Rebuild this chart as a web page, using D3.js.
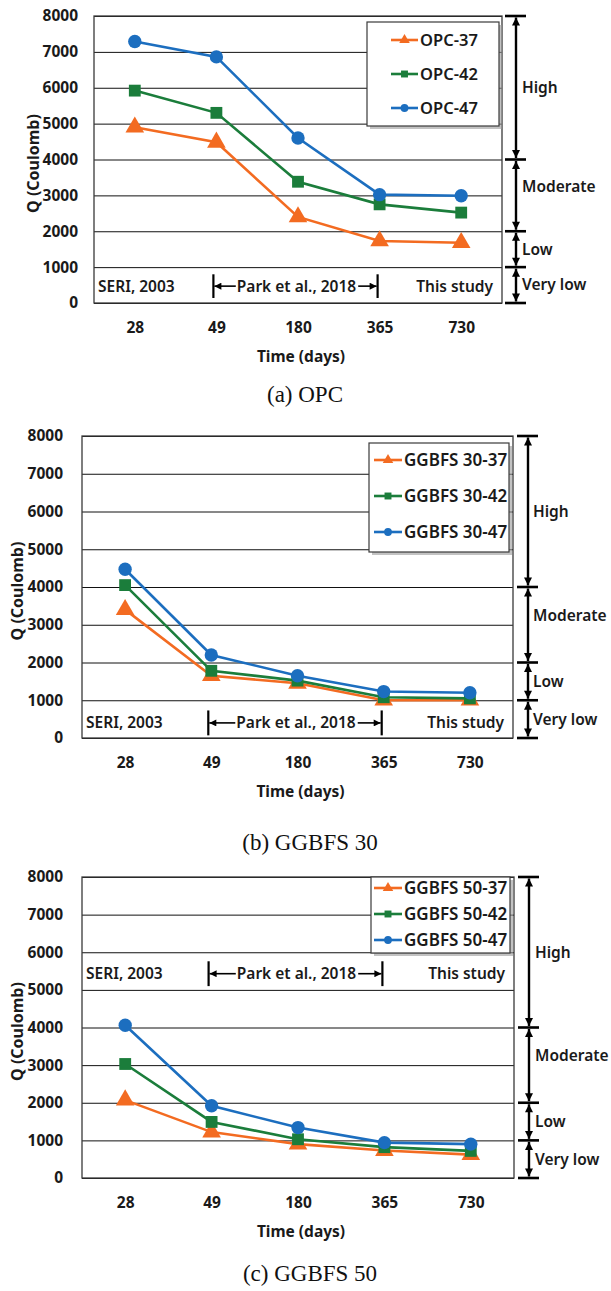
<!DOCTYPE html>
<html><head><meta charset="utf-8">
<script src="https://cdn.jsdelivr.net/npm/d3@7"></script>
<style>body{margin:0;background:#fff} svg{display:block}</style>
</head><body><svg id="c" width="611" height="1291"></svg>
<script>
// ---------- data ----------
const days = ["28", "49", "180", "365", "730"];
const yTicks = [0, 1000, 2000, 3000, 4000, 5000, 6000, 7000, 8000];

const opcNames = ["OPC-37", "OPC-42", "OPC-47"];
const opc37 = [4900, 4480, 2400, 1730, 1680];
const opc42 = [5920, 5300, 3380, 2750, 2520];
const opc47 = [7290, 6860, 4600, 3020, 2990];

const g30Names = ["GGBFS 30-37", "GGBFS 30-42", "GGBFS 30-47"];
const g30_37 = [3400, 1650, 1450, 1000, 1000];
const g30_42 = [4050, 1780, 1520, 1080, 1050];
const g30_47 = [4470, 2200, 1650, 1230, 1200];

const g50Names = ["GGBFS 50-37", "GGBFS 50-42", "GGBFS 50-47"];
const g50_37 = [2070, 1220, 900, 730, 620];
const g50_42 = [3030, 1490, 1030, 820, 720];
const g50_47 = [4060, 1920, 1340, 940, 900];

const ratingBounds = [8000, 4000, 2000, 1000, 0];
const ratingLabels = ["High", "Moderate", "Low", "Very low"];
const ratingLabelAt = [6000, 3250, 1500, 500];

const sourceLabels = ["SERI, 2003", "Park et al., 2018", "This study"];
const captions = ["(a) OPC", "(b) GGBFS 30", "(c) GGBFS 50"];

const colors = ["#F36B21", "#1B7D3B", "#1C6EBF"];
const shapes = [d3.symbolTriangle, d3.symbolSquare, d3.symbolCircle];

// ---------- layout ----------
const panels = [
  {L: 94, R: 502, T: 16, B: 303, series: [opc37, opc42, opc47], names: opcNames, cap: captions[0],
   tickGap: 16, yTitleX: 33, srcV: 470, capX: 305, capDY: 91,
   leg: {x: 367, y: 22, w: 132, h: 104, rows: [40, 74, 108], lx0: 391, lx1: 418, fs: 16.5},
   rx: 516, lblX: 522},
  {L: 82, R: 513, T: 436, B: 738, series: [g30_37, g30_42, g30_47], names: g30Names, cap: captions[1],
   tickGap: 19, yTitleX: 17, srcV: 400, capX: 310, capDY: 104,
   leg: {x: 369, y: 443, w: 140, h: 109, rows: [460, 496, 532], lx0: 374, lx1: 402, fs: 17},
   rx: 528, lblX: 533},
  {L: 82, R: 514, T: 877, B: 1178, series: [g50_37, g50_42, g50_47], names: g50Names, cap: captions[2],
   tickGap: 19, yTitleX: 17, srcV: 5430, capX: 310, capDY: 95,
   leg: {x: 371, y: 877, w: 139, h: 76, rows: [888, 914, 940], lx0: 374, lx1: 402, fs: 17},
   rx: 529, lblX: 535}
];

const FONT = "'Noto Sans', 'Open Sans', sans-serif";
const svg = d3.select("#c");
const defs = svg.append("defs");
function mkArrow(id, w, h) {
  defs.append("marker").attr("id", id).attr("viewBox", "0 0 10 10")
    .attr("refX", 10).attr("refY", 5).attr("markerUnits", "userSpaceOnUse")
    .attr("markerWidth", w).attr("markerHeight", h).attr("orient", "auto-start-reverse")
    .append("path").attr("d", "M0,0L10,5L0,10z").attr("fill", "#000");
}
mkArrow("big", 9, 8);
mkArrow("small", 9, 7);

function drawPanel(p) {
  const g = svg.append("g").attr("font-family", FONT);
  const x = d3.scalePoint().domain(days).range([p.L, p.R]).padding(0.5);
  const y = d3.scaleLinear().domain([0, 8000]).range([p.B, p.T]);
  const W = p.R - p.L;

  // gridlines
  g.append("g").attr("transform", `translate(${p.L},0)`)
    .call(d3.axisLeft(y).tickValues(yTicks).tickSize(-W).tickFormat(""))
    .call(a => a.select(".domain").remove())
    .call(a => a.selectAll("line").attr("stroke", "#111").attr("stroke-width", 1));
  // frame
  g.append("rect").attr("x", p.L).attr("y", p.T).attr("width", W).attr("height", p.B - p.T)
    .attr("fill", "none").attr("stroke", "#3a3a3a").attr("stroke-width", 1.3);

  // y tick labels
  const ya = g.append("g").attr("transform", `translate(${p.L - p.tickGap},0)`)
    .call(d3.axisLeft(y).tickValues(yTicks).tickFormat(d3.format("d")).tickSize(0).tickPadding(0));
  ya.attr("font-family", FONT).select(".domain").remove();
  ya.selectAll("text").attr("font-size", 15.5).attr("font-weight", "bold").attr("fill", "#1a1a1a");

  // x tick labels
  const xa = g.append("g").attr("transform", `translate(0,${p.B + 25})`)
    .call(d3.axisBottom(x).tickSize(0).tickPadding(0));
  xa.attr("font-family", FONT).select(".domain").remove();
  xa.selectAll("text").attr("dy", "0.35em").attr("font-size", 15.5).attr("font-weight", "bold").attr("fill", "#1a1a1a");

  // axis titles
  g.append("text").attr("transform", `translate(${p.yTitleX},${(p.T + p.B) / 2 + 4}) rotate(-90)`)
    .attr("text-anchor", "middle").attr("dy", "0.35em").attr("font-size", 16).attr("font-weight", "bold")
    .attr("fill", "#1a1a1a").text("Q (Coulomb)");
  g.append("text").attr("x", (p.L + p.R) / 2 + 3).attr("y", p.B + 54).attr("dy", "0.35em")
    .attr("text-anchor", "middle").attr("font-size", 15.5).attr("font-weight", "bold")
    .attr("fill", "#1a1a1a").text("Time (days)");

  // caption
  svg.append("text").attr("x", p.capX).attr("y", p.B + p.capDY).attr("dy", "0.35em")
    .attr("text-anchor", "middle").attr("font-family", "'Liberation Serif', 'Times New Roman', serif")
    .attr("font-size", 23).attr("fill", "#111").text(p.cap);

  // source annotations
  const sy = y(p.srcV);
  const srcFs = 15.5;
  g.append("text").attr("x", p.L + 4).attr("y", sy).attr("dy", "0.35em").attr("font-size", srcFs)
    .attr("font-weight", 600).attr("fill", "#1a1a1a").text(sourceLabels[0]);
  g.append("text").attr("x", p.R - 9).attr("y", sy).attr("dy", "0.35em").attr("text-anchor", "end")
    .attr("font-size", srcFs).attr("font-weight", 600).attr("fill", "#1a1a1a").text(sourceLabels[2]);
  const b0 = x("49") - 3, b1 = x("365") - 2;
  const barTop = y(p.srcV + 330), barBot = y(Math.max(0, p.srcV - 330));
  [b0, b1].forEach(bx => g.append("line").attr("x1", bx).attr("x2", bx).attr("y1", barTop).attr("y2", barBot)
    .attr("stroke", "#000").attr("stroke-width", 2.2));
  const pt = g.append("text").attr("x", (b0 + b1) / 2 + 1).attr("y", sy).attr("dy", "0.35em")
    .attr("text-anchor", "middle").attr("font-size", srcFs).attr("font-weight", 600)
    .attr("fill", "#1a1a1a").text(sourceLabels[1]);
  const tw = pt.node().getComputedTextLength();
  const tx0 = (b0 + b1) / 2 + 1 - tw / 2, tx1 = tx0 + tw;
  g.append("line").attr("x1", tx0 - 1).attr("x2", b0 + 1).attr("y1", sy).attr("y2", sy)
    .attr("stroke", "#000").attr("stroke-width", 1.6).attr("marker-end", "url(#small)");
  g.append("line").attr("x1", tx1 + 2).attr("x2", b1 - 1).attr("y1", sy).attr("y2", sy)
    .attr("stroke", "#000").attr("stroke-width", 1.6).attr("marker-end", "url(#small)");

  // series
  const sizes = [150, 140, 140];
  p.series.forEach((vals, i) => {
    const pts = days.map((d, j) => [x(d), y(vals[j])]);
    g.append("path").attr("d", d3.line()(pts)).attr("fill", "none")
      .attr("stroke", colors[i]).attr("stroke-width", 2.6);
    g.selectAll(null).data(pts).join("path")
      .attr("transform", d => `translate(${d[0]},${d[1]})`)
      .attr("d", d3.symbol().type(shapes[i]).size(sizes[i]))
      .attr("fill", colors[i]);
  });

  // legend
  const L = p.leg;
  g.append("rect").attr("x", L.x + 3).attr("y", L.y + 3).attr("width", L.w).attr("height", L.h)
    .attr("fill", "#9a9a9a").attr("opacity", 0.6);
  g.append("rect").attr("x", L.x).attr("y", L.y).attr("width", L.w).attr("height", L.h)
    .attr("fill", "#fff").attr("stroke", "#3a3a3a").attr("stroke-width", 1.2);
  p.names.forEach((n, i) => {
    const ry = L.rows[i];
    g.append("line").attr("x1", L.lx0).attr("x2", L.lx1).attr("y1", ry).attr("y2", ry)
      .attr("stroke", colors[i]).attr("stroke-width", 2.6);
    g.append("path").attr("transform", `translate(${(L.lx0 + L.lx1) / 2},${ry})`)
      .attr("d", d3.symbol().type(shapes[i]).size(48)).attr("fill", colors[i]);
    g.append("text").attr("x", L.lx1 + 2).attr("y", ry).attr("dy", "0.35em")
      .attr("font-size", L.fs).attr("font-weight", 600).attr("fill", "#1a1a1a").text(n);
  });

  // rating scale on the right
  ratingBounds.forEach(v => g.append("line").attr("x1", p.rx - 11).attr("x2", p.rx + 10)
    .attr("y1", y(v)).attr("y2", y(v)).attr("stroke", "#000").attr("stroke-width", 2.6));
  for (let k = 0; k < ratingBounds.length - 1; k++) {
    g.append("line").attr("x1", p.rx).attr("x2", p.rx)
      .attr("y1", y(ratingBounds[k]) + 1.5).attr("y2", y(ratingBounds[k + 1]) - 1.5)
      .attr("stroke", "#000").attr("stroke-width", 2.4)
      .attr("marker-start", "url(#big)").attr("marker-end", "url(#big)");
    g.append("text").attr("x", p.lblX).attr("y", y(ratingLabelAt[k])).attr("dy", "0.35em")
      .attr("font-size", 15.5).attr("font-weight", 600).attr("fill", "#1a1a1a").text(ratingLabels[k]);
  }
}
panels.forEach(drawPanel);
</script></body></html>
